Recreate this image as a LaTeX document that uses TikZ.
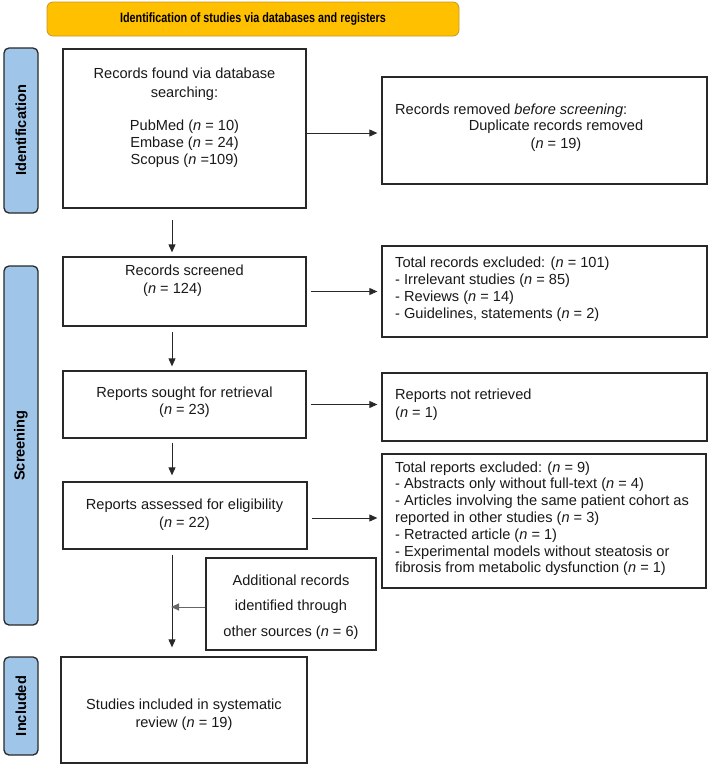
\documentclass[tikz,border=0pt]{standalone}
\usepackage{fontspec}
\setmainfont{Liberation Sans}
\newfontfamily\bannerfont{Liberation Sans}[FakeStretch=0.8]
\usetikzlibrary{arrows.meta,calc}
\definecolor{boxline}{RGB}{40,40,40}
\definecolor{sidefill}{RGB}{159,197,232}
\definecolor{bannerfill}{RGB}{255,192,0}
\definecolor{bannerline}{RGB}{200,150,40}
\begin{document}
\begin{tikzpicture}[x=1pt,y=-1pt,
  box/.style={draw=boxline,line width=1.3pt,fill=white,inner sep=0pt},
  side/.style={draw=boxline,line width=1.3pt,fill=sidefill,rounded corners=5pt,inner sep=0pt,
    font=\fontsize{14.6}{17}\selectfont\bfseries,rotate=90},
  banner/.style={draw=bannerline,line width=0.8pt,fill=bannerfill,rounded corners=6pt,inner sep=0pt,
    font=\bannerfont\fontsize{13.5}{15}\selectfont\bfseries},
  txt/.style={inner sep=0pt,font=\fontsize{14.6}{17}\selectfont,text=black!90},
  arr/.style={draw=boxline,line width=0.9pt,-{Triangle[length=8pt,width=7pt]}},
  ln/.style={draw=boxline,line width=0.9pt}
]
\useasboundingbox (0,0) rectangle (709,766);

% banner
\node[banner,minimum width=412,minimum height=34] (ban) at (253,19) {Identification of studies via databases and registers};

% side labels
\node[side,minimum width=165,minimum height=34] (sid) at (21,130.5) {Identification};
\node[side,minimum width=359,minimum height=34] (ssc) at (21,445.5) {Screening};
\node[side,minimum width=98,minimum height=34] (sin) at (21,706) {Included};

% boxes
\node[box,minimum width=243,minimum height=159] (b1) at (184.5,128.5) {};
\node[box,minimum width=325,minimum height=107] (b2) at (544.5,130.5) {};
\node[box,minimum width=243,minimum height=69] (b3) at (184.5,291.5) {};
\node[box,minimum width=325,minimum height=91] (b5) at (544.5,291.5) {};
\node[box,minimum width=243,minimum height=67] (b4) at (184.5,404.5) {};
\node[box,minimum width=325,minimum height=68] (b6) at (544.5,407) {};
\node[box,minimum width=244,minimum height=67] (b8) at (185,515.5) {};
\node[box,minimum width=324,minimum height=134] (b7) at (544,521) {};
\node[box,minimum width=170,minimum height=92] (b9) at (291,604) {};
\node[box,minimum width=246,minimum height=106] (b10) at (184,710) {};

% texts (base anchor = baseline of the last line)
\node[txt,align=center,anchor=base] (t1) at (184.5,164) {Records found via database\\[2pt]searching:\\[16pt]PubMed (\textit{n} = 10)\\Embase (\textit{n} = 24)\\Scopus (\textit{n} =109)};
\node[txt,anchor=base west] (t2a) at (395,114) {Records removed \textit{before screening}:};
\node[txt,align=center,anchor=base] (t2b) at (556,148) {Duplicate records removed\\[1pt](\textit{n} = 19)};
\node[txt,align=left,anchor=base west] (t3) at (125,293) {Records screened\\[1pt]\hspace*{18pt}(\textit{n} = 124)};
\node[txt,align=left,anchor=base west] (t5) at (395,318) {Total records excluded: (\textit{n} = 101)\\- Irrelevant studies (\textit{n} = 85)\\- Reviews (\textit{n} = 14)\\- Guidelines, statements (\textit{n} = 2)};
\node[txt,align=center,anchor=base] (t4) at (184.5,414) {Reports sought for retrieval\\(\textit{n} = 23)};
\node[txt,align=left,anchor=base west] (t6) at (395,417) {Reports not retrieved\\[1pt](\textit{n} = 1)};
\node[txt,align=left,anchor=base west,font=\fontsize{14.6}{16.8}\selectfont] (t7) at (395,572.8) {Total reports excluded: (\textit{n} = 9)\\- Abstracts only without full-text (\textit{n} = 4)\\- Articles involving the same patient cohort as\\reported in other studies (\textit{n} = 3)\\- Retracted article (\textit{n} = 1)\\- Experimental models without steatosis or\\fibrosis from metabolic dysfunction (\textit{n} = 1)};
\node[txt,align=center,anchor=base] (t8) at (184.5,527) {Reports assessed for eligibility\\[1pt](\textit{n} = 22)};
\node[txt,align=center,anchor=base,font=\fontsize{14.6}{25.5}\selectfont] (t9) at (291,636) {Additional records\\identified through\\other sources (\textit{n} = 6)};
\node[txt,align=center,anchor=base] (t10) at (184,727) {Studies included in systematic\\[1pt]review (\textit{n} = 19)};

% arrow column
\coordinate (ax) at (172,0);

% connectors
\draw[arr,shorten >=4pt] ([yshift=-4.5pt]b1.east) -- ([yshift=-4.5pt]b1.east -| b2.west);
\draw[arr,shorten <=11pt,shorten >=4pt] (b1.south -| ax) -- (b3.north -| ax);
\draw[arr,shorten <=4pt,shorten >=4pt] (b3.east) -- (b3.east -| b5.west);
\draw[arr,shorten <=5pt,shorten >=4pt] (b3.south -| ax) -- (b4.north -| ax);
\draw[arr,shorten <=4pt,shorten >=4pt] (b4.east) -- (b4.east -| b6.west);
\draw[arr,shorten <=4pt,shorten >=6pt] (b4.south -| ax) -- (b8.north -| ax);
\draw[arr,shorten <=4pt,shorten >=4pt] ([yshift=-2.5pt]b8.east) -- ([yshift=-2.5pt]b8.east -| b7.west);
\draw[arr,shorten <=5pt,shorten >=9pt] (b8.south -| ax) -- (b10.north -| ax);
\draw[arr,draw=black!60,shorten >=-1pt] ([yshift=-3pt]b9.west) -- ([yshift=-3pt]b9.west -| ax);
\end{tikzpicture}
\end{document}
